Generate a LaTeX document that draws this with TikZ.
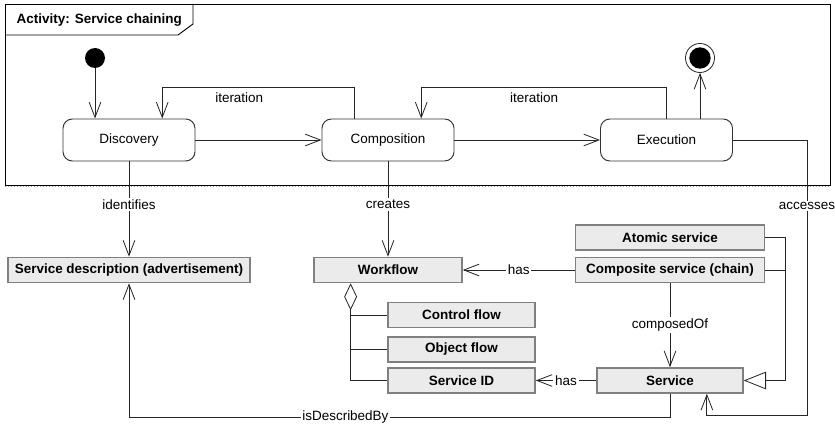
\documentclass[tikz,border=0pt]{standalone}
\usepackage{fontspec}
\setmainfont{Liberation Sans}
\usetikzlibrary{arrows.meta,calc}

\begin{document}
\begin{tikzpicture}[x=0.03cm, y=-0.03cm,
    every node/.style={font=\fontsize{11.5}{13}\selectfont},
    action/.style={draw=black!80, line width=0.8pt, rounded corners=8pt, minimum width=3.96cm, minimum height=1.26cm, inner sep=0pt},
    classbox/.style={draw=black!50, line width=1.3pt, fill=black!8, minimum height=0.75cm, inner sep=0pt, font=\fontsize{11.5}{13}\selectfont\bfseries},
    link/.style={draw=black!85, line width=0.7pt},
    flow/.style={link, -{Straight Barb[length=13pt,width=10pt]}},
    gen/.style={link, -{Triangle[open, length=19pt, width=15pt]}},
    aggr/.style={link, {Diamond[open, length=23pt, width=11pt]}-},
    lbl/.style={fill=white, inner sep=1.5pt}]
    \useasboundingbox (0,0) rectangle (835,426);

    % Activity frame
    \draw[line width=0.8pt] (5,4) rectangle (830,185);
    \draw[black!40, dotted, line width=0.5pt] (5,186.5) -- (830,186.5);
    \draw[line width=0.8pt] (5,35) -- (178,35) -- (193,24) -- (193,4);
    \node[anchor=west, font=\fontsize{11.5}{13}\selectfont\bfseries] (title) at (12.5,20) {Activity: Service chaining};

    % Actions
    \node[circle, fill=black, minimum size=0.6cm, inner sep=0pt] (init) at (95,58) {};
    \node[action] (disc) at (129,140) {Discovery};
    \node[action] (comp) at (388,140) {Composition};
    \node[action] (exec) at (666.5,140) {Execution};
    \node[circle, draw=black!85, line width=0.7pt, minimum size=0.87cm, inner sep=0pt] (final) at (700,58) {};
    \node[circle, fill=black, minimum size=0.64cm, inner sep=0pt] (finaldot) at (final) {};

    % Control flow
    \draw[flow] (init) -- (init |- disc.north);
    \draw[flow] (disc) -- (comp);
    \draw[flow] (comp) -- (exec);
    \draw[flow] (final |- exec.north) -- (final);
    \draw[flow] ($(comp.north west)!0.25!(comp.north east)$) -- ++(0,-31) -| node[pos=0.3, below=1pt] {iteration} ($(disc.north west)!0.75!(disc.north east)$);
    \draw[flow] (exec.north) -- ++(0,-31) -| node[pos=0.27, below=1pt] {iteration} ($(comp.north west)!0.75!(comp.north east)$);

    % Classes
    \node[classbox, minimum width=7.26cm] (sd) at (129,270) {Service description (advertisement)};
    \node[classbox, minimum width=4.44cm] (wf) at (388,270) {Workflow};
    \node[classbox, minimum width=5.67cm] (atomic) at (670,237.5) {Atomic service};
    \node[classbox, minimum width=5.67cm] (composite) at (670,270) {Composite service (chain)};
    \node[classbox, minimum width=4.41cm] (cf) at (461.5,315) {Control flow};
    \node[classbox, minimum width=4.41cm] (of) at (461.5,349.5) {Object flow};
    \node[classbox, minimum width=4.41cm] (sid) at (461.5,380.5) {Service ID};
    \node[classbox, minimum width=4.38cm] (svc) at (670,380.5) {Service};

    \coordinate (genbus) at (785,0);
    \coordinate (accbus) at (807,415);
    \coordinate (idbrow) at (0,417);
    \coordinate (aggbus) at ($(wf.south west)!0.25!(wf.south east)$);

    % Associations
    \draw[flow] (disc) -- node[lbl, pos=0.45] {identifies} (sd);
    \draw[flow] (comp) -- node[lbl, pos=0.45] {creates} (wf);
    \draw[flow] (composite) -- node[lbl] {has} (wf);
    \draw[flow] (composite) -- node[lbl] {composedOf} (svc);
    \draw[flow] (svc) -- node[lbl] {has} (sid);
    \draw[flow] (exec.east) -| node[lbl, pos=0.62] {accesses} (accbus) -| ($(svc.south)!0.5!(svc.south east)$);
    \draw[flow] (svc.south) |- node[lbl, pos=0.8] {isDescribedBy} (sd.south |- idbrow) -- (sd.south);

    % Generalization
    \draw[gen] (atomic.east) -| (genbus |- svc.east) -- (svc.east);
    \draw[link] (composite.east) -- (composite.east -| genbus);

    % Aggregation
    \draw[aggr] (aggbus) |- (sid.west);
    \draw[link] (cf.west) -- (cf.west -| aggbus);
    \draw[link] (of.west) -- (of.west -| aggbus);
\end{tikzpicture}
\end{document}
